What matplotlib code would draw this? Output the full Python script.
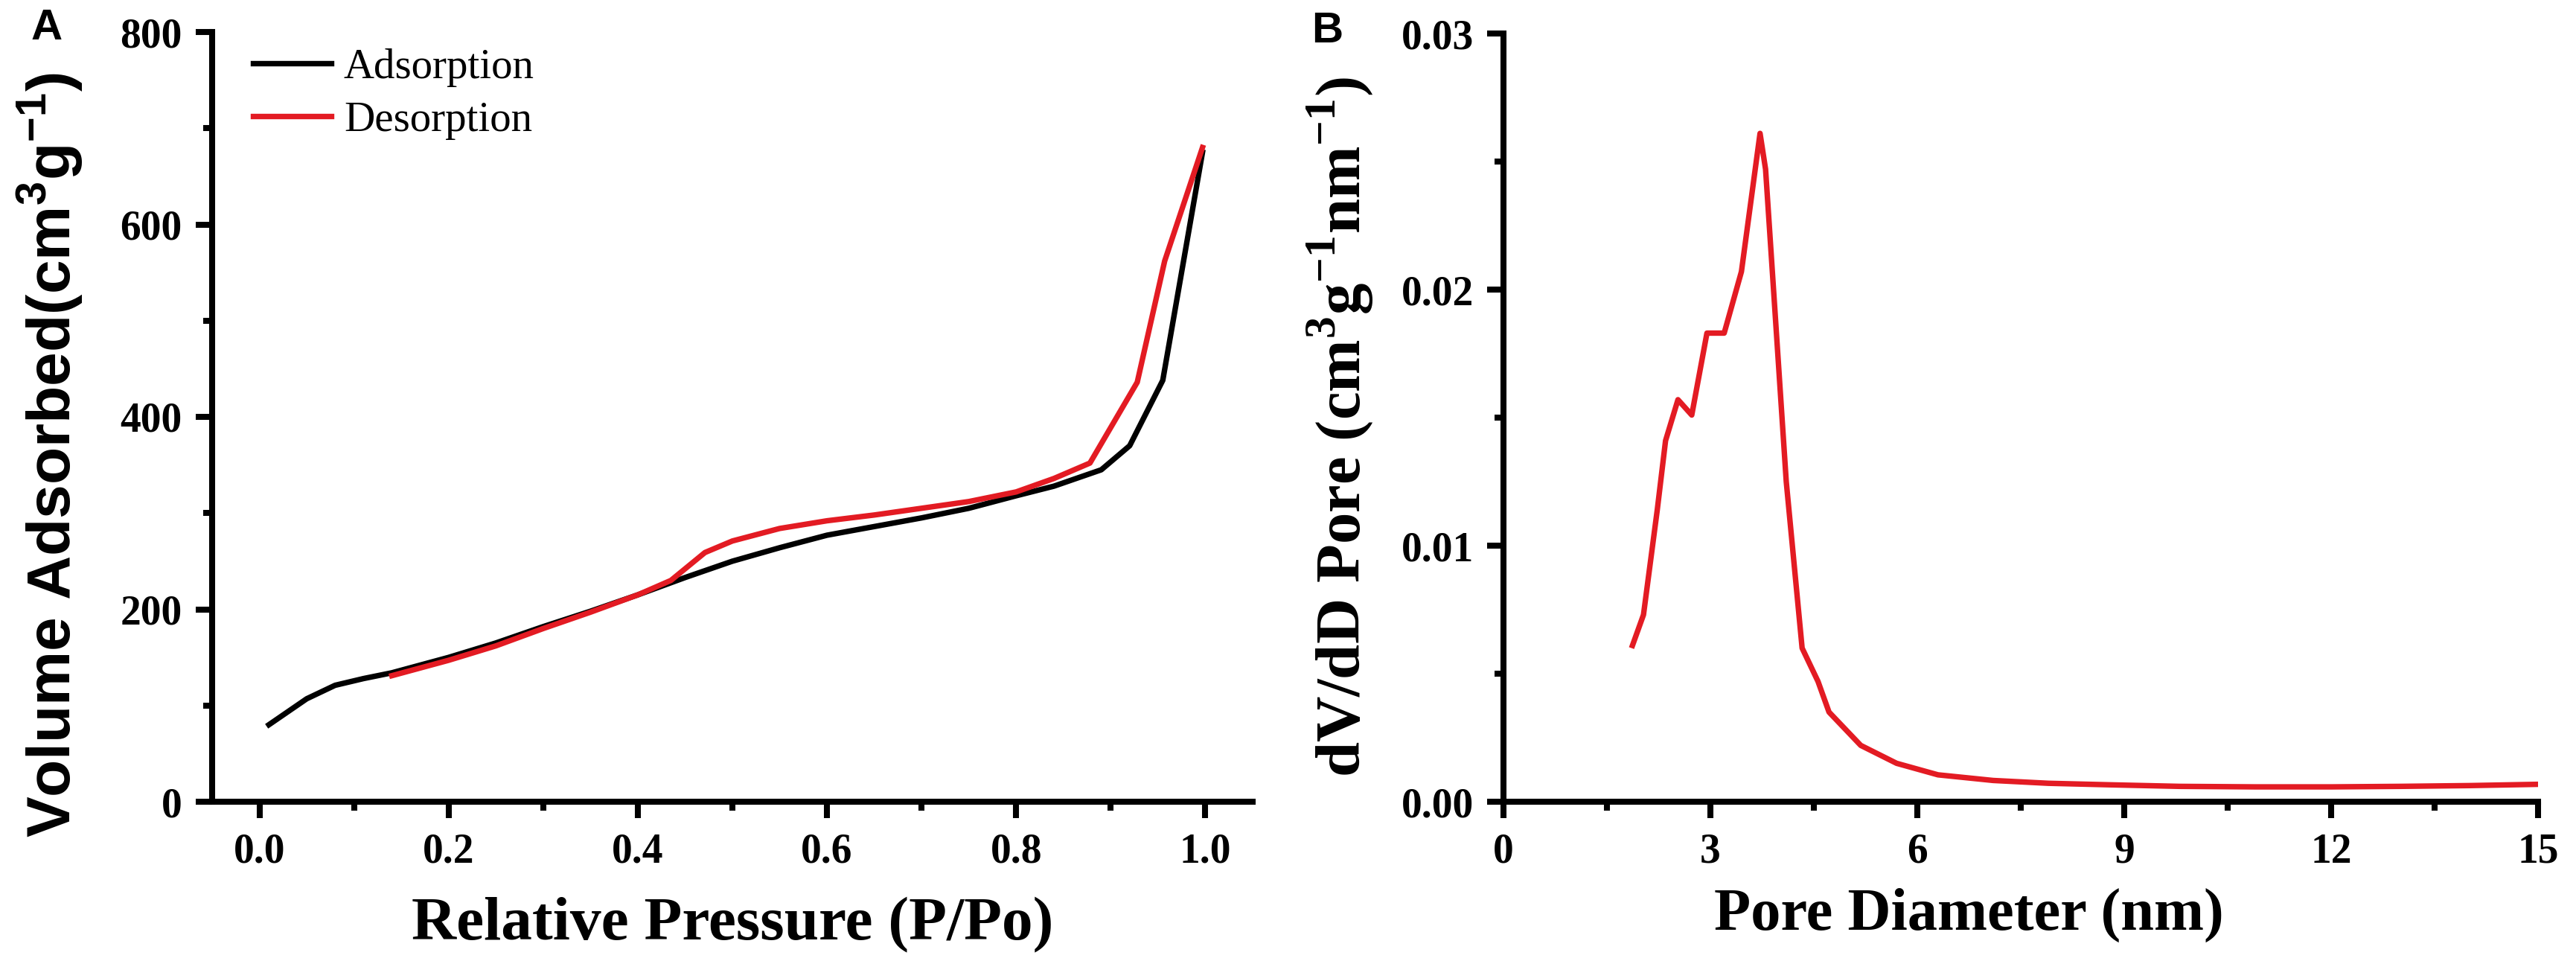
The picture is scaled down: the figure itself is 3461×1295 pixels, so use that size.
import matplotlib
matplotlib.use("Agg")
import matplotlib.pyplot as plt
from matplotlib.ticker import MultipleLocator, FormatStrFormatter
from matplotlib import font_manager

# ---------------- data ----------------
ads_p = [0.01, 0.05, 0.08, 0.11, 0.14, 0.20, 0.25, 0.30, 0.35, 0.40, 0.45, 0.50,
         0.55, 0.60, 0.65, 0.70, 0.75, 0.80, 0.84, 0.89, 0.92, 0.955, 0.997]
ads_v = [80, 107, 121, 128, 134, 150, 165, 182, 198, 215, 233, 250,
         264, 277, 286, 295, 305, 318, 328, 345, 370, 438, 675]

des_p = [0.997, 0.957, 0.928, 0.878, 0.84, 0.80, 0.75, 0.70, 0.65, 0.60, 0.55,
         0.50, 0.471, 0.435, 0.40, 0.35, 0.30, 0.25, 0.20, 0.14]
des_v = [680, 562, 436, 352, 336, 322, 312, 305, 298, 292, 284,
         271, 259, 230, 215, 197, 180, 162, 147, 131]

pore_d = [1.87, 2.03, 2.23, 2.35, 2.53, 2.73, 2.95, 3.20, 3.45, 3.72, 3.80, 4.10,
          4.33, 4.56, 4.72, 5.18, 5.70, 6.30, 7.10, 7.90, 8.80, 9.80, 10.90,
          12.00, 13.00, 14.00, 15.00]
pore_v = [0.0061, 0.0073, 0.0114, 0.0141, 0.0157, 0.0151, 0.0183, 0.0183, 0.0207,
          0.0261, 0.0247, 0.0125, 0.0060, 0.0047, 0.0035, 0.0022, 0.0015, 0.00105,
          0.00083, 0.00072, 0.00066, 0.00060, 0.00058, 0.00058, 0.00060, 0.00063,
          0.00068]

legend_labels = ["Adsorption", "Desorption"]
xlabel_a = "Relative Pressure (P/Po)"
ylabel_a = r"Volume Adsorbed(cm$^{\mathdefault{3}}$g$^{\mathdefault{-1}}$)"
xlabel_b = "Pore Diameter (nm)"
ylabel_b = (r"dV/dD Pore (cm$^{\mathdefault{3}}$g$^{\mathdefault{-1}}$"
            r"nm$^{\mathdefault{-1}}$)")

# ---------------- style ----------------
W, H = 3461, 1295
RED = "#E31B23"
SERIF = "Liberation Serif"
installed = {f.name for f in font_manager.fontManager.ttflist}
SANS_NARROW = ["Liberation Sans Narrow", "Liberation Sans"] \
    if "Liberation Sans Narrow" in installed else ["Liberation Sans"]
SANS = "Liberation Sans"
TICK_FS = 40
SPINE_W = 5.8

plt.rcParams["font.family"] = [SERIF, "DejaVu Serif"]
plt.rcParams["font.weight"] = "bold"

fig = plt.figure(figsize=(W / 100, H / 100), dpi=100)
ax1 = fig.add_axes([285 / W, 1 - 1077 / H, 1398 / W, 1034 / H])
ax2 = fig.add_axes([2020 / W, 1 - 1077 / H, 1390 / W, 1032 / H])


def style(ax):
    for s in ("top", "right"):
        ax.spines[s].set_visible(False)
    for s in ("left", "bottom"):
        ax.spines[s].set_linewidth(SPINE_W)
    ax.tick_params(which="major", direction="out", length=16, width=SPINE_W,
                   labelsize=TICK_FS)
    ax.tick_params(which="minor", direction="out", length=8.5, width=SPINE_W)
    ax.tick_params(axis="x", which="major", pad=14)
    ax.tick_params(axis="y", which="major", pad=13)


# ---- panel A ----
ax1.plot(ads_p, ads_v, color="black", lw=5.3, label=legend_labels[0],
         solid_joinstyle="round")
ax1.plot(des_p, des_v, color=RED, lw=5.3, label=legend_labels[1],
         solid_joinstyle="round")
ax1.set_xlim(-0.05, 1.05)
ax1.set_ylim(0, 800)
ax1.xaxis.set_major_locator(MultipleLocator(0.2))
ax1.xaxis.set_minor_locator(MultipleLocator(0.1))
ax1.yaxis.set_major_locator(MultipleLocator(200))
ax1.yaxis.set_minor_locator(MultipleLocator(100))
ax1.xaxis.set_major_formatter(FormatStrFormatter("%.1f"))
style(ax1)
ax1.set_xlabel(xlabel_a, fontsize=60, fontweight="bold")
ax1.xaxis.label.set_va("baseline")
ax1.xaxis.set_label_coords(0.5, -(1262 - 1077) / 1034)
ax1.set_ylabel(ylabel_a, family=SANS_NARROW, fontweight="bold", fontsize=70)
ax1.yaxis.label.set_va("center")
ax1.yaxis.set_label_coords((67 - 285) / 1398, (1077 - 611) / 1034)
leg = ax1.legend(loc="upper left", bbox_to_anchor=(0.039, 0.979), frameon=False,
                 prop={"family": SERIF, "size": 41, "weight": "normal"},
                 handlelength=1.85, handletextpad=0.3, labelspacing=0.33,
                 borderaxespad=0, borderpad=0)
for h in leg.get_lines():
    h.set_linewidth(5.3)

# ---- panel B ----
ax2.plot(pore_d, pore_v, color=RED, lw=5.3, solid_joinstyle="round")
ax2.set_xlim(0, 15)
ax2.set_ylim(0, 0.03)
ax2.xaxis.set_major_locator(MultipleLocator(3))
ax2.xaxis.set_minor_locator(MultipleLocator(1.5))
ax2.yaxis.set_major_locator(MultipleLocator(0.01))
ax2.yaxis.set_minor_locator(MultipleLocator(0.005))
ax2.yaxis.set_major_formatter(FormatStrFormatter("%.2f"))
style(ax2)
ax2.set_xlabel(xlabel_b, fontsize=58, fontweight="bold")
ax2.xaxis.label.set_va("baseline")
ax2.xaxis.set_label_coords(0.45, -(1249 - 1077) / 1032)
ax2.set_ylabel(ylabel_b, fontweight="bold", fontsize=60)
ax2.yaxis.label.set_va("center")
ax2.yaxis.set_label_coords((1800 - 2020) / 1390, (1077 - 573) / 1032)

fig.text(42 / W, 1 - 11 / H, "A", family=SANS, fontweight="bold",
         fontsize=42, ha="left", va="top")
fig.text(1762 / W, 1 - 15 / H, "B", family=SANS, fontweight="bold",
         fontsize=42, ha="left", va="top")

# fit the rotated y labels to the lengths they have in the reference
fig.canvas.draw()
r = fig.canvas.get_renderer()
for lab, target in ((ax1.yaxis.label, 1028), (ax2.yaxis.label, 941)):
    for _ in range(3):
        h = lab.get_window_extent(r).height
        lab.set_fontsize(lab.get_fontsize() * target / h)
        fig.canvas.draw()

fig.savefig("out.png", dpi=100)
